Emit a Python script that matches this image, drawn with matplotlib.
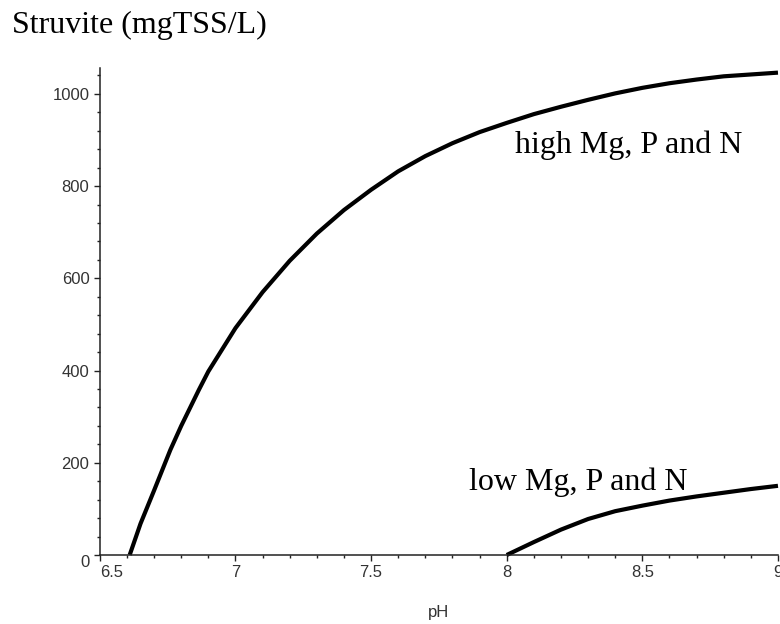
import matplotlib.pyplot as plt
from matplotlib.ticker import MultipleLocator

ph_high = [6.61, 6.65, 6.70, 6.76, 6.80, 6.865, 6.90, 7.00, 7.10, 7.20, 7.30,
           7.40, 7.50, 7.60, 7.70, 7.80, 7.90, 8.00, 8.10, 8.20, 8.30, 8.40,
           8.50, 8.60, 8.70, 8.80, 8.90, 9.00]
struv_high = [0, 68, 140, 228, 280, 358, 398, 492, 570, 638, 697, 748, 792,
              832, 865, 893, 917, 937, 956, 972, 987, 1001, 1013, 1023, 1031,
              1038, 1042, 1046]

ph_low = [8.00, 8.05, 8.10, 8.20, 8.30, 8.40, 8.50, 8.60, 8.70, 8.80, 8.90, 9.00]
struv_low = [0, 14, 28, 55, 78, 95, 107, 118, 127, 135, 143, 150]

label_high = "high Mg, P and N"
label_low = "low Mg, P and N"

serif = ['Liberation Serif', 'DejaVu Serif']
sans = ['Liberation Sans', 'DejaVu Sans']

fig = plt.figure(figsize=(7.8, 6.24), dpi=100)
ax = fig.add_axes([0.128, 0.1106, 0.8694, 0.7804])

ax.plot(ph_high, struv_high, color='black', lw=3, clip_on=False, solid_capstyle='butt')
ax.plot(ph_low, struv_low, color='black', lw=3, clip_on=False, solid_capstyle='butt')

ax.set_xlim(6.5, 9)
ax.set_ylim(0, 1056)

for s in ['top', 'right']:
    ax.spines[s].set_visible(False)
for s in ['left', 'bottom']:
    ax.spines[s].set_linewidth(1.1)
    ax.spines[s].set_color('#222222')

ax.xaxis.set_minor_locator(MultipleLocator(0.1))
ax.yaxis.set_minor_locator(MultipleLocator(40))
ax.set_xticks([6.5, 7, 7.5, 8, 8.5, 9])
ax.set_xticklabels(['6.5', '7', '7.5', '8', '8.5', '9'])
ax.set_yticks([0, 200, 400, 600, 800, 1000])
ax.set_yticklabels(['0', '200', '400', '600', '800', '1000'])

ax.tick_params(which='major', length=4.5, width=1, color='#222222',
               labelsize=12, labelcolor='#333333', pad=3)
ax.tick_params(which='minor', length=2.5, width=1, color='#222222')
for lab in ax.get_xticklabels() + ax.get_yticklabels():
    lab.set_family(sans)
ax.get_xticklabels()[0].set_horizontalalignment('left')
ax.get_yticklabels()[0].set_verticalalignment('top')

ax.set_xlabel('pH', family=sans, fontsize=12, color='#333333', labelpad=18)

fig.text(12 / 780, 1 - 25 / 624, 'Struvite (mgTSS/L)', family=serif,
         fontsize=23, va='center', ha='left')
ax.text(8.03, 889, label_high, family=serif, fontsize=23, ha='left', va='center')
ax.text(7.86, 158, label_low, family=serif, fontsize=23, ha='left', va='center')

fig.savefig('out.png', dpi=100)
